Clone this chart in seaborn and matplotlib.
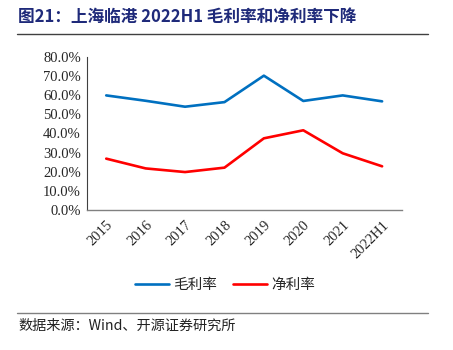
import pandas as pd
import matplotlib
matplotlib.use("Agg")
import matplotlib.pyplot as plt
import seaborn as sns
from matplotlib.ticker import PercentFormatter, FixedLocator

# Data
years = ["2015", "2016", "2017", "2018", "2019", "2020", "2021", "2022H1"]
gross_margin = [0.598, 0.570, 0.539, 0.563, 0.701, 0.569, 0.598, 0.567]
net_margin = [0.268, 0.217, 0.198, 0.221, 0.374, 0.416, 0.296, 0.228]
series_names = ["毛利率", "净利率"]
series_colors = ["#0070C0", "#FF0000"]

df = pd.DataFrame({
    "year": years * 2,
    "value": gross_margin + net_margin,
    "series": [series_names[0]] * len(years) + [series_names[1]] * len(years),
})

sns.set_style("white")
plt.rcParams["font.family"] = ["Noto Sans CJK SC", "DejaVu Sans"]

fig = plt.figure(figsize=(4.53, 3.5), dpi=100)
ax = fig.add_axes([0.191, 0.40, 0.696, 0.438])

sns.lineplot(data=df, x="year", y="value", hue="series", palette=series_colors,
             linewidth=1.9, ax=ax, sort=False)

ax.set_xlim(-0.5, len(years) - 0.5)
ax.set_ylim(0, 0.8)
ax.set_yticks([i / 10 for i in range(9)])
ax.yaxis.set_major_formatter(PercentFormatter(1.0, decimals=1))
ax.set_xlabel("")
ax.set_ylabel("")

# category ticks at boundaries, labels at centers
ax.xaxis.set_minor_locator(FixedLocator([i + 0.5 for i in range(len(years))]))
ax.tick_params(axis="x", which="major", length=0, pad=6)
ax.tick_params(axis="x", which="minor", length=3, direction="in", color="#808080", width=0.8)
ax.tick_params(axis="y", which="major", length=3, direction="in", color="#404040", width=0.8, pad=4)
for lbl in ax.get_xticklabels():
    lbl.set_rotation(45)
    lbl.set_ha("right")
    lbl.set_rotation_mode("anchor")
    lbl.set_family("Liberation Serif")
    lbl.set_fontsize(10.5)
for lbl in ax.get_yticklabels():
    lbl.set_family("Liberation Serif")
    lbl.set_fontsize(10.5)

for s in ["top", "right"]:
    ax.spines[s].set_visible(False)
ax.spines["left"].set_color("#404040")
ax.spines["bottom"].set_color("#808080")
ax.spines["left"].set_linewidth(0.8)
ax.spines["bottom"].set_linewidth(1.0)

ax.legend(loc="center", bbox_to_anchor=(0.497, 0.186), bbox_transform=fig.transFigure,
          ncol=2, frameon=False, fontsize=10.5, handlelength=2.3, columnspacing=1.1,
          handletextpad=0.3)

# title, separator lines and source note
fig.text(0.04, 0.951, "图21：上海临港 2022H1 毛利率和净利率下降", fontsize=12,
         fontweight="bold", color="#1F2A7A", va="center", ha="left")
fig.add_artist(plt.Line2D([0.038, 0.945], [0.903, 0.903], color="#404040", linewidth=1.0))
fig.add_artist(plt.Line2D([0.038, 0.945], [0.106, 0.106], color="#808080", linewidth=1.0))
fig.text(0.04, 0.07, "数据来源：Wind、开源证券研究所", fontsize=10.2, color="#222222",
         va="center", ha="left")

fig.savefig("out.png", dpi=100)
